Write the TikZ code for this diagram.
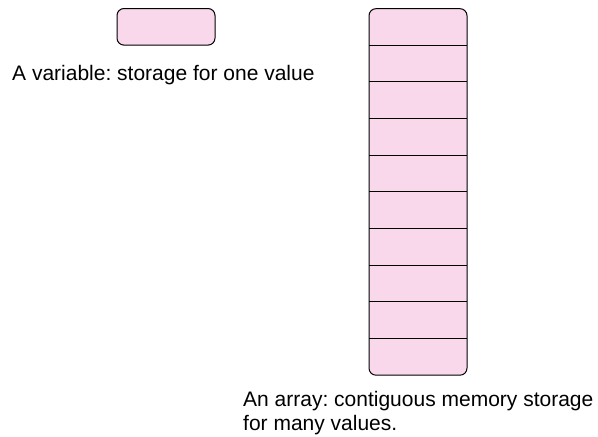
\documentclass[tikz,border=0pt]{standalone}
\usepackage{fontspec}
\setmainfont{Liberation Sans}
\usetikzlibrary{positioning}

\definecolor{cellpink}{RGB}{249,216,235}

\tikzset{
  varbox/.style={draw,fill=cellpink,rounded corners=7pt,minimum width=98pt,minimum height=36.6pt,line width=1pt,inner sep=0pt},
  cellbox/.style={minimum width=98pt,minimum height=36.65pt,inner sep=0pt,outer sep=0pt},
  caption/.style={font=\fontsize{21}{24}\selectfont,inner sep=0pt,anchor=west}
}

\begin{document}
\frenchspacing
\begin{tikzpicture}[x=1pt,y=-1pt]

\useasboundingbox (0,0) rectangle (598,437);

\node[varbox] (var) at (166,26.8) {};
\node[caption] (varlabel) at (12,75) {A variable: storage for one value};

\node[cellbox] (cell1) at (418,27) {};
\foreach \i [count=\j from 2] in {1,...,9} {
  \node[cellbox,below=0pt of cell\i] (cell\j) {};
}

\draw[fill=cellpink,rounded corners=7pt,line width=1pt] (cell1.north west) rectangle (cell10.south east);
\foreach \i in {1,...,9} {
  \draw[line width=1pt] (cell\i.south west) -- (cell\i.south east);
}

\node[caption] (arrlabel1) at (243,401) {An array: contiguous memory storage};
\node[caption] (arrlabel2) at (243,425) {for many values.};

\end{tikzpicture}
\end{document}
